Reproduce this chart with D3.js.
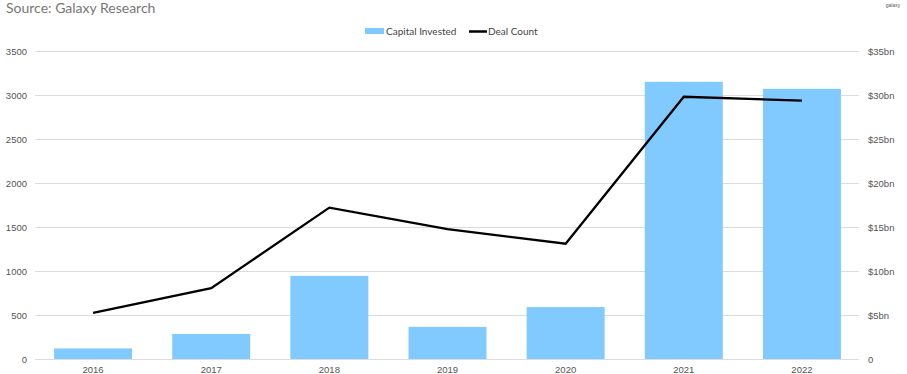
<!DOCTYPE html>
<html>
<head>
<meta charset="utf-8">
<script src="https://cdn.jsdelivr.net/npm/d3@7"></script>
<style>
  body { margin: 0; background: #fff; }
  svg { display: block; font-family: "Liberation Sans", Arial, sans-serif; }
  .grid line { stroke: #dcdcdc; stroke-width: 1; }
  .tick-label { fill: #555; font-size: 9.5px; }
</style>
</head>
<body>
<svg id="chart" width="907" height="374"></svg>
<script>
const years = ["2016", "2017", "2018", "2019", "2020", "2021", "2022"];
const capitalInvested = [1.2, 2.85, 9.45, 3.65, 5.9, 31.5, 30.7];   // $bn, right axis
const dealCount = [525, 805, 1720, 1475, 1310, 2980, 2935];          // left axis
const leftTicks = [0, 500, 1000, 1500, 2000, 2500, 3000, 3500];
const rightTicks = [0, 5, 10, 15, 20, 25, 30, 35];

const width = 907, height = 374;
const svg = d3.select("#chart");

const x = d3.scaleBand().domain(years).range([34, 861]).paddingInner(0.34).paddingOuter(0.17);
const yLeft = d3.scaleLinear().domain([0, 3500]).range([359, 51]);
const yRight = d3.scaleLinear().domain([0, 35]).range([359, 51]);

// title (sits right at the top edge)
svg.append("text")
  .attr("x", 6).attr("y", 13)
  .attr("fill", "#777")
  .style("font-family", "Lato, sans-serif")
  .style("font-size", "14px")
  .text("Source: Galaxy Research");

svg.append("text")
  .attr("x", 893).attr("y", 7)
  .attr("text-anchor", "middle")
  .attr("fill", "#555")
  .style("font-size", "5px")
  .text("galaxy");

// gridlines
svg.append("g").attr("class", "grid")
  .selectAll("line")
  .data(leftTicks)
  .enter()
  .append("line")
  .attr("x1", 35).attr("x2", 859)
  .attr("y1", d => Math.round(yLeft(d)) + 0.5)
  .attr("y2", d => Math.round(yLeft(d)) + 0.5);

// left axis labels
svg.append("g")
  .selectAll("text")
  .data(leftTicks)
  .enter()
  .append("text")
  .attr("class", "tick-label")
  .attr("x", 27)
  .attr("y", d => yLeft(d) + 3.5)
  .attr("text-anchor", "end")
  .text(d => d);

// right axis labels
svg.append("g")
  .selectAll("text")
  .data(rightTicks)
  .enter()
  .append("text")
  .attr("class", "tick-label")
  .attr("x", 868)
  .attr("y", d => yRight(d) + 3.5)
  .text(d => d === 0 ? "0" : "$" + d + "bn");

// bars
svg.append("g")
  .selectAll("rect")
  .data(years)
  .enter()
  .append("rect")
  .attr("x", d => x(d))
  .attr("width", x.bandwidth())
  .attr("y", (d, i) => yRight(capitalInvested[i]))
  .attr("height", (d, i) => yRight(0) - yRight(capitalInvested[i]))
  .attr("fill", "#80caff");

// deal count line
const line = d3.line()
  .x((d, i) => x(years[i]) + x.bandwidth() / 2)
  .y(d => yLeft(d));

svg.append("path")
  .datum(dealCount)
  .attr("d", line)
  .attr("fill", "none")
  .attr("stroke", "#000")
  .attr("stroke-width", 2.3)
  .attr("stroke-linejoin", "miter");

// x labels
svg.append("g")
  .selectAll("text")
  .data(years)
  .enter()
  .append("text")
  .attr("class", "tick-label")
  .attr("x", d => x(d) + x.bandwidth() / 2)
  .attr("y", 373)
  .attr("text-anchor", "middle")
  .text(d => d);

// legend
const legend = svg.append("g").style("font-family", "Lato, sans-serif").style("font-size", "10px");
legend.append("rect").attr("x", 365).attr("y", 28).attr("width", 19).attr("height", 6).attr("fill", "#80caff");
legend.append("text").attr("x", 386).attr("y", 35).attr("fill", "#444").text("Capital Invested");
legend.append("line").attr("x1", 469).attr("x2", 487).attr("y1", 31.5).attr("y2", 31.5)
  .attr("stroke", "#000").attr("stroke-width", 2.5);
legend.append("text").attr("x", 488).attr("y", 35).attr("fill", "#444").text("Deal Count");
</script>
</body>
</html>
